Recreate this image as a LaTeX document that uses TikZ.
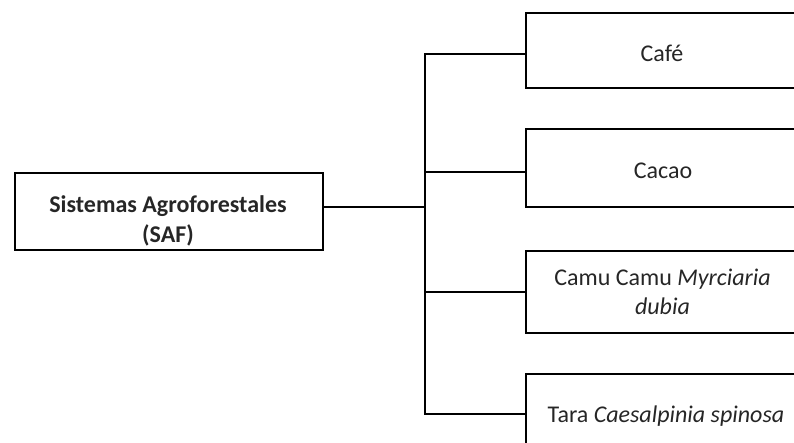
\documentclass[tikz,border=0pt]{standalone}
\usepackage{fontspec}
\setmainfont{Carlito}
\begin{document}
\begin{tikzpicture}[x=1pt,y=-1pt,
  box/.style={draw=black,line width=2.3pt,inner sep=0pt,minimum width=274},
  txt/.style={anchor=base,inner sep=0pt,text=black!85,font=\fontsize{24}{29.5}\selectfont},
  link/.style={draw=black,line width=1.4pt}]
\useasboundingbox (0,0) rectangle (794,443);
\clip (0,0) rectangle (794,443);
% boxes
\node[box,minimum width=308,minimum height=77] (saf) at (169,211.5) {};
\node[box,minimum height=75] (cafe) at (663,50.5) {};
\node[box,minimum height=78] (cacao) at (663,168) {};
\node[box,minimum height=82] (camu) at (663,292) {};
\node[box,minimum height=80] (tara) at (663,414) {};
% texts
\node[txt,font=\bfseries\fontsize{24}{29.5}\selectfont] (saf1) at (168,213) {Sistemas Agroforestales};
\node[txt,font=\bfseries\fontsize{24}{29.5}\selectfont] (saf2) at (168,243) {(SAF)};
\node[txt] (cafet) at (662,62) {Café};
\node[txt] (cacaot) at (663,178.5) {Cacao};
\node[txt] (camu1) at (662.5,286) {Camu Camu \textit{Myrciaria}};
\node[txt] (camu2) at (662.5,314.5) {\textit{dubia}};
\node[txt] (tarat) at (666,422) {Tara \textit{Caesalpinia spinosa}};
% connectors
\coordinate (bcafe) at (425,54);
\coordinate (bcacao) at (425,172);
\coordinate (bcamu) at (425,292);
\coordinate (btara) at (425,414);
\coordinate (j) at (425,207);
\draw[link] (bcafe -| cafe.west) -- (bcafe) -- (btara) -- (btara -| tara.west);
\draw[link] (bcacao) -- (bcacao -| cacao.west);
\draw[link] (bcamu) -- (bcamu -| camu.west);
\draw[link] (j -| saf.east) -- (j);
\end{tikzpicture}
\end{document}
